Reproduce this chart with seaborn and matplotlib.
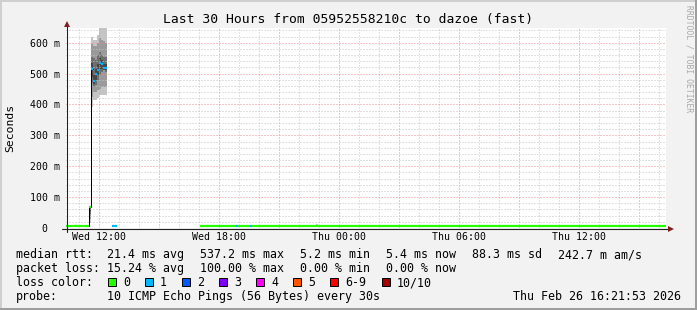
import matplotlib
matplotlib.use("Agg")
import matplotlib.pyplot as plt
import seaborn as sns
import pandas as pd
from matplotlib.patches import Rectangle
from matplotlib.lines import Line2D

# ---------------- data (time = hours since Wed 00:00, rtt in ms) ----------------
seg_start = [10.37, 11.52, 11.62, 11.72, 11.82, 11.92, 12.02, 12.12, 12.22, 12.32,
             12.69, 17.08, 18.85, 18.95, 19.55, 19.65]
seg_end = [11.52, 11.62, 11.72, 11.82, 11.92, 12.02, 12.12, 12.22, 12.32, 12.42,
           12.89, 18.85, 18.95, 19.55, 19.65, 40.36]
median_ms = [5.3, 68, 515, 476, 498, 512, 535, 530, 519, 519,
             5.4, 5.2, 5.4, 5.3, 5.4, 5.4]
loss_idx = [0, 0, 1, 1, 1, 1, 1, 1, 1, 1, 1, 0, 1, 0, 1, 0]

# smoke (ping distribution per 6-minute step)
smoke_start = [11.52, 11.62, 11.72, 11.82, 11.92, 12.02, 12.12, 12.22, 12.32, 22.85]
smoke_width = 0.1
outer_lo = [16, 392, 414, 414, 421, 431, 431, 431, 431, 5.4]
outer_hi = [68, 619, 609, 609, 625, 660, 660, 660, 660, 12]
mid_lo = [30, 425, 440, 440, 447, 450, 455, 455, 455, 5.4]
mid_hi = [66, 595, 590, 590, 600, 615, 610, 605, 600, 9]
core_lo = [45, 470, 457, 463, 479, 496, 505, 510, 505, 5.4]
core_hi = [65, 554, 550, 544, 560, 570, 560, 554, 554, 7]
inner_lo = [55, 490, 465, 480, 495, 515, 515, 512, 510, 5.4]
inner_hi = [64, 535, 500, 515, 530, 550, 545, 530, 530, 6]

loss_labels = ["0", "1", "2", "3", "4", "5", "6-9", "10/10"]
loss_colors = ["#26ff00", "#00b8ff", "#0059ff", "#7e00ff", "#ff00ff", "#ff5500", "#ff0000", "#a10000"]

x_major = [12, 15, 18, 21, 24, 27, 30, 33, 36, 39]
x_major_labels = ["Wed 12:00", "", "Wed 18:00", "", "Thu 00:00", "", "Thu 06:00", "", "Thu 12:00", ""]
y_major = [0, 0.1, 0.2, 0.3, 0.4, 0.5, 0.6]
y_major_labels = ["0  ", "100 m", "200 m", "300 m", "400 m", "500 m", "600 m"]

title = "Last 30 Hours from 05952558210c to dazoe (fast)"
row_median = ["median rtt:", "21.4 ms avg", "537.2 ms max", "5.2 ms min", "5.4 ms now", "88.3 ms sd", "242.7 m am/s"]
row_loss = ["packet loss:", "15.24 % avg", "100.00 % max", "0.00 % min", "0.00 % now"]
probe_text = "10 ICMP Echo Pings (56 Bytes) every 30s"
date_text = "Thu Feb 26 16:21:53 2026"

# ---------------- style ----------------
sns.set_theme(style="white")
MONO = ["DejaVu Sans Mono"]
plt.rcParams["font.family"] = MONO
plt.rcParams["axes.unicode_minus"] = False

W, H = 697, 310
fig = plt.figure(figsize=(W / 100, H / 100), dpi=100)
BG = "#f2f2f2"
fig.patch.set_facecolor(BG)


def fx(px):
    return px / W


def fy(py):
    return 1 - py / H


ax = fig.add_axes([fx(66), fy(228), 600 / W, 200 / H])
ax.set_facecolor("white")
ax.set_xlim(10.365, 40.365)
ax.set_ylim(0, 0.6476)
for s in ax.spines.values():
    s.set_visible(False)

# grid
ax.set_xticks(x_major)
ax.set_xticklabels(x_major_labels)
ax.set_xticks(list(range(11, 41)), minor=True)
ax.set_yticks(y_major)
ax.set_yticklabels(y_major_labels)
ax.set_yticks([v / 100 for v in range(0, 65, 2)], minor=True)
ax.set_axisbelow("line")
ax.grid(which="major", color="#f08c8c", linestyle=(0, (1, 2)), linewidth=0.72)
ax.grid(which="minor", color="#c4c4c4", linestyle=(0, (1, 2)), linewidth=0.72)
ax.tick_params(which="both", length=0)
ax.tick_params(axis="x", pad=3.0, labelsize=7.1, labelcolor="black")
ax.tick_params(axis="y", pad=4.3, labelsize=7.1, labelcolor="black")

# smoke
shades = ["#c4c4c4", "#9a9a9a", "#6e6e6e", "#474747"]
levels = [(outer_lo, outer_hi), (mid_lo, mid_hi), (core_lo, core_hi), (inner_lo, inner_hi)]
for shade, (lo, hi) in zip(shades, levels):
    for t0, a, b in zip(smoke_start, lo, hi):
        ax.fill_between([t0, t0 + smoke_width], a / 1000, b / 1000, color=shade,
                        linewidth=0, zorder=1)

# median line (black connection) where the rtt jumps up
df = pd.DataFrame({"t": seg_start[:3] + [seg_end[2]],
                   "rtt": [m / 1000 for m in median_ms[:3]] + [median_ms[2] / 1000]})
sns.lineplot(data=df, x="t", y="rtt", ax=ax, color="black", linewidth=0.72,
             drawstyle="steps-post", estimator=None, sort=False, zorder=2)

# loss-coloured median segments
for t0, t1, m, li in zip(seg_start, seg_end, median_ms, loss_idx):
    ax.hlines(m / 1000, t0, t1, colors=loss_colors[li], linewidth=1.6, zorder=3)
ax.set_xlabel("")
ax.set_ylabel("")

# axis lines and arrows
axis_col = "#1f1f1f"
arrow_col = "#801f1f"
fig.add_artist(Line2D([fx(62), fx(670)], [fy(228.5), fy(228.5)], color=axis_col, linewidth=0.8,
                      transform=fig.transFigure))
fig.add_artist(Line2D([fx(66.5), fx(66.5)], [fy(232), fy(25)], color=axis_col, linewidth=0.8,
                      transform=fig.transFigure))
fig.add_artist(Line2D([fx(671)], [fy(228.5)], marker=">", markersize=4.5, color=arrow_col,
                      markeredgewidth=0, transform=fig.transFigure))
fig.add_artist(Line2D([fx(66.5)], [fy(23.5)], marker="^", markersize=4.5, color=arrow_col,
                      markeredgewidth=0, transform=fig.transFigure))

# frame shading
fig.add_artist(Rectangle((0, 0), fx(2), 1, color="#cfcfcf", transform=fig.transFigure, lw=0))
fig.add_artist(Rectangle((0, fy(2)), 1, 2 / H, color="#cfcfcf", transform=fig.transFigure, lw=0))
fig.add_artist(Rectangle((fx(695), 0), 2 / W, 1, color="#9e9e9e", transform=fig.transFigure, lw=0))
fig.add_artist(Rectangle((0, 0), 1, 2 / H, color="#9e9e9e", transform=fig.transFigure, lw=0))

# texts
fig.text(fx(348), fy(23), title, ha="center", va="baseline", fontsize=9.4, color="black")
fig.text(fx(10.5), fy(128), "Seconds", rotation=90, ha="center", va="center", fontsize=8.2,
         color="black")
fig.text(fx(688.5), fy(5), "RRDTOOL / TOBI OETIKER", rotation=270, ha="center", va="top",
         fontsize=5.8, color="#a8a8a8")

LEG = 8.37
row_x = [16, 107, 200, 300, 386, 472.5, 558]
for x, s in zip(row_x, row_median):
    fig.text(fx(x), fy(258.3), s, ha="left", va="baseline", fontsize=LEG, color="black")
for x, s in zip(row_x, row_loss):
    fig.text(fx(x), fy(272.3), s, ha="left", va="baseline", fontsize=LEG, color="black")
fig.text(fx(16), fy(286.3), "loss color:", ha="left", va="baseline", fontsize=LEG, color="black")
sq_x = [108, 145, 182, 219, 256, 293, 330, 382]
for x, lab, col in zip(sq_x, loss_labels, loss_colors):
    fig.add_artist(Rectangle((fx(x), fy(286)), 8 / W, 8 / H, facecolor=col, edgecolor="black",
                             linewidth=0.7, transform=fig.transFigure))
    fig.text(fx(x + 15), fy(286.3), lab, ha="left", va="baseline", fontsize=LEG, color="black")
fig.text(fx(16), fy(300.3), "probe:", ha="left", va="baseline", fontsize=LEG, color="black")
fig.text(fx(107), fy(300.3), probe_text, ha="left", va="baseline", fontsize=LEG, color="black")
fig.text(fx(681), fy(300.3), date_text, ha="right", va="baseline", fontsize=LEG, color="black")

fig.savefig("out.png", dpi=100, facecolor=BG)
